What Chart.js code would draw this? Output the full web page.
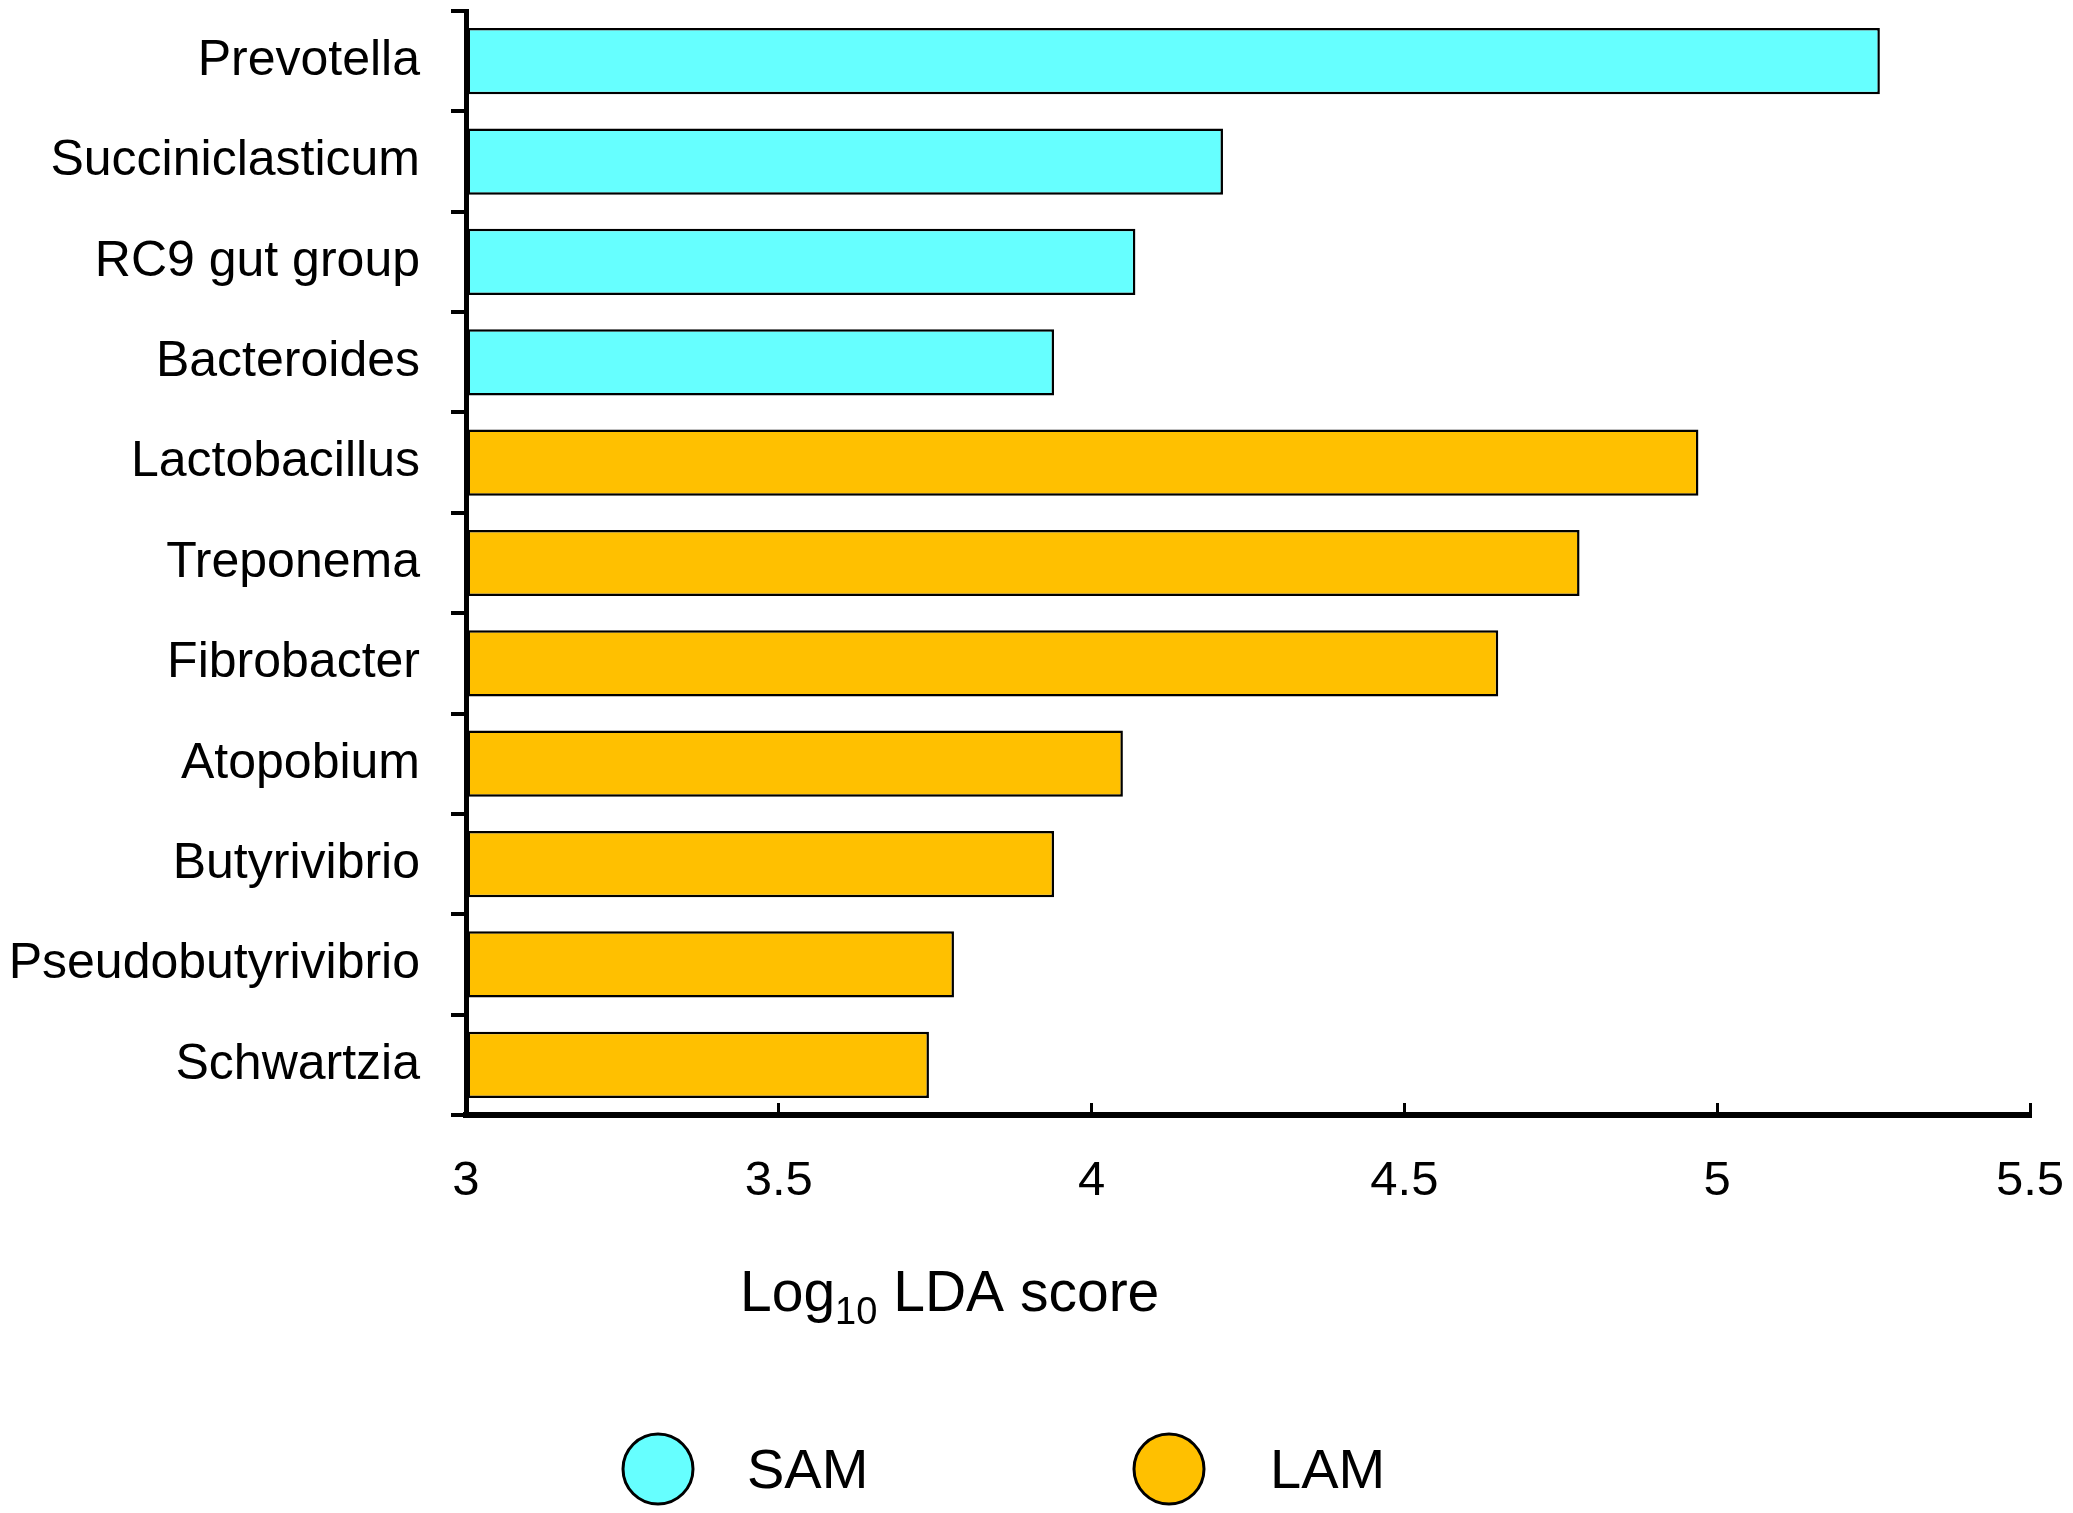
<!DOCTYPE html>
<html>
<head>
<meta charset="utf-8">
<script src="https://cdn.jsdelivr.net/npm/chart.js@4.4.1/dist/chart.umd.min.js"></script>
<style>
  html, body { margin: 0; padding: 0; background: #fff; }
  #wrap { width: 2073px; height: 1513px; }
</style>
</head>
<body>
<div id="wrap"><canvas id="lda"></canvas></div>
<script>
const generos = ["Prevotella", "Succiniclasticum", "RC9 gut group", "Bacteroides",
  "Lactobacillus", "Treponema", "Fibrobacter", "Atopobium", "Butyrivibrio",
  "Pseudobutyrivibrio", "Schwartzia"];
const scores = [5.26, 4.21, 4.07, 3.94, 4.97, 4.78, 4.65, 4.05, 3.94, 3.78, 3.74];
const grupoDe = ["SAM", "SAM", "SAM", "SAM", "LAM", "LAM", "LAM", "LAM", "LAM", "LAM", "LAM"];
const grupos = ["SAM", "LAM"];
const corGrupo = { "SAM": "#66FFFF", "LAM": "#FFC000" };
const xTicks = [3, 3.5, 4, 4.5, 5, 5.5];

const fonte = '"Liberation Sans", Arial, sans-serif';

// titulo do eixo x com subscrito e legenda desenhados a mao
const extras = {
  id: 'extras',
  afterDraw(chart) {
    const c = chart.ctx;
    c.save();
    c.fillStyle = '#000';
    c.textBaseline = 'alphabetic';
    c.textAlign = 'left';
    let x = 740;
    const base = 1311;
    c.font = '57px ' + fonte;
    c.fillText('Log', x, base);
    x += c.measureText('Log').width;
    c.font = '38px ' + fonte;
    c.fillText('10', x, base + 13);
    x += c.measureText('10').width;
    c.font = '57px ' + fonte;
    c.fillText(' LDA score', x, base);

    const cx = [658, 1169];
    const tx = [747, 1270];
    grupos.forEach((g, i) => {
      c.beginPath();
      c.arc(cx[i], 1469, 35, 0, Math.PI * 2);
      c.fillStyle = corGrupo[g];
      c.fill();
      c.lineWidth = 3;
      c.strokeStyle = '#000';
      c.stroke();
      c.fillStyle = '#000';
      c.font = '56px ' + fonte;
      c.fillText(g, tx[i], 1488);
    });
    c.restore();
  }
};

new Chart(document.getElementById('lda'), {
  type: 'bar',
  data: {
    labels: generos,
    datasets: [{
      data: scores,
      base: 3,
      backgroundColor: grupoDe.map(g => corGrupo[g]),
      borderColor: '#000',
      borderWidth: 2.5,
      borderSkipped: false,
      barPercentage: 0.66,
      categoryPercentage: 1
    }]
  },
  options: {
    indexAxis: 'y',
    responsive: true,
    maintainAspectRatio: false,
    animation: false,
    devicePixelRatio: 1,
    layout: { padding: { left: 0, right: 43, top: 11, bottom: 0 } },
    plugins: {
      legend: { display: false },
      tooltip: { enabled: false }
    },
    scales: {
      x: {
        min: 3,
        max: 5.5,
        afterBuildTicks: s => { s.ticks = xTicks.map(v => ({ value: v })); },
        afterFit: s => { s.height = 398; s.paddingLeft = 0; s.paddingRight = 0; },
        border: { display: true, color: '#000', width: 6 },
        grid: { drawOnChartArea: false, drawTicks: true, tickLength: -12, color: '#000', lineWidth: 3 },
        ticks: { color: '#000', padding: 49, font: { family: fonte, size: 49 }, callback: v => String(v) }
      },
      y: {
        afterFit: s => { s.width = 466; s.paddingTop = 0; s.paddingBottom = 0; },
        border: { display: true, color: '#000', width: 5 },
        grid: { offset: true, drawOnChartArea: false, drawTicks: true, tickLength: 15, color: '#000', lineWidth: 4 },
        ticks: { color: '#000', padding: 31, font: { family: fonte, size: 50 } }
      }
    }
  },
  plugins: [extras]
});
</script>
</body>
</html>
